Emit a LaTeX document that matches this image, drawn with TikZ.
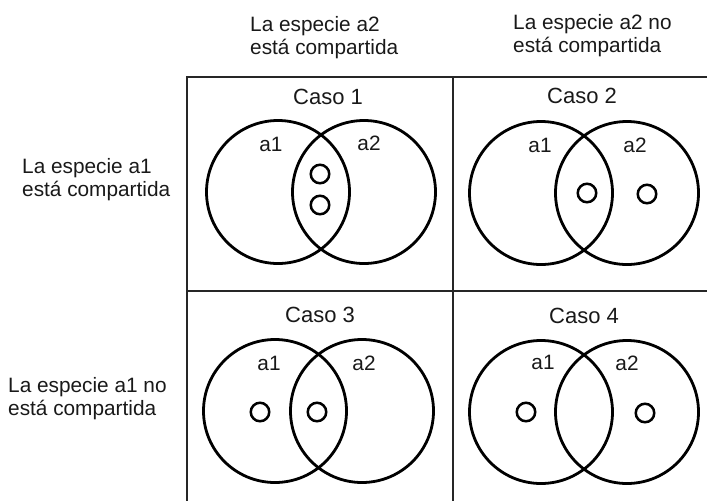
\documentclass[tikz,border=0pt]{standalone}
\usepackage{fontspec}
\setmainfont{Liberation Sans}
\begin{document}
\begin{tikzpicture}[x=1pt,y=-1pt,
  txt/.style={inner sep=0pt,font=\fontsize{20.8}{23}\selectfont,text=black!90},
  twoline/.style={txt,align=left,anchor=north west},
  caso/.style={txt,anchor=base,font=\fontsize{22}{24}\selectfont},
  setlabel/.style={txt,anchor=base},
  gridline/.style={line width=2pt,draw=black!85},
  bigset/.style={line width=2.8pt,draw=black},
  elem/.style={circle,line width=2.5pt,draw=black,minimum size=18.5pt,inner sep=0pt}]
\useasboundingbox (0,0) rectangle (707,501);
% grid
\coordinate (tl) at (187,77);
\coordinate (tr) at (707,77);
\coordinate (bl) at (187,501);
\coordinate (mt) at (453,77);
\coordinate (mb) at (453,501);
\coordinate (ml) at (187,291);
\coordinate (mr) at (707,291);
\draw[gridline] (tr) -- (tl) -- (bl);
\draw[gridline] (mt) -- (mb);
\draw[gridline] (ml) -- (mr);
% headers
\node[twoline] (h1) at (250,16.5) {La especie a2\\está compartida};
\node[twoline] (h2) at (513,14) {La especie a2 no\\está compartida};
\node[twoline] (r1) at (22,158.5) {La especie a1\\está compartida};
\node[twoline] (r2) at (8,377.5) {La especie a1 no\\está compartida};
% Caso 1
\node[caso] (c1) at (328,104.5) {Caso 1};
\draw[bigset] (278,192) circle (71.5);
\draw[bigset] (364,192) circle (71.5);
\node[setlabel] (c1a1) at (271,151.5) {a1};
\node[setlabel] (c1a2) at (369,150.5) {a2};
\node[elem] (c1e1) at (320,174) {};
\node[elem] (c1e2) at (320,205) {};
% Caso 2
\node[caso] (c2) at (582,103.5) {Caso 2};
\draw[bigset] (541,193) circle (71.5);
\draw[bigset] (627,193) circle (71.5);
\node[setlabel] (c2a1) at (540,152.5) {a1};
\node[setlabel] (c2a2) at (635,152.5) {a2};
\node[elem] (c2e1) at (587,193) {};
\node[elem] (c2e2) at (647,194) {};
% Caso 3
\node[caso] (c3) at (320,322.5) {Caso 3};
\draw[bigset] (275,411) circle (71.5);
\draw[bigset] (362,411) circle (71.5);
\node[setlabel] (c3a1) at (269,370.5) {a1};
\node[setlabel] (c3a2) at (364,370.5) {a2};
\node[elem] (c3e1) at (260,412) {};
\node[elem] (c3e2) at (317,412) {};
% Caso 4
\node[caso] (c4) at (584,323.5) {Caso 4};
\draw[bigset] (541,412) circle (71.5);
\draw[bigset] (627,412) circle (71.5);
\node[setlabel] (c4a1) at (543,369.5) {a1};
\node[setlabel] (c4a2) at (627,370.5) {a2};
\node[elem] (c4e1) at (526,412) {};
\node[elem] (c4e2) at (645,413) {};
\end{tikzpicture}
\end{document}
